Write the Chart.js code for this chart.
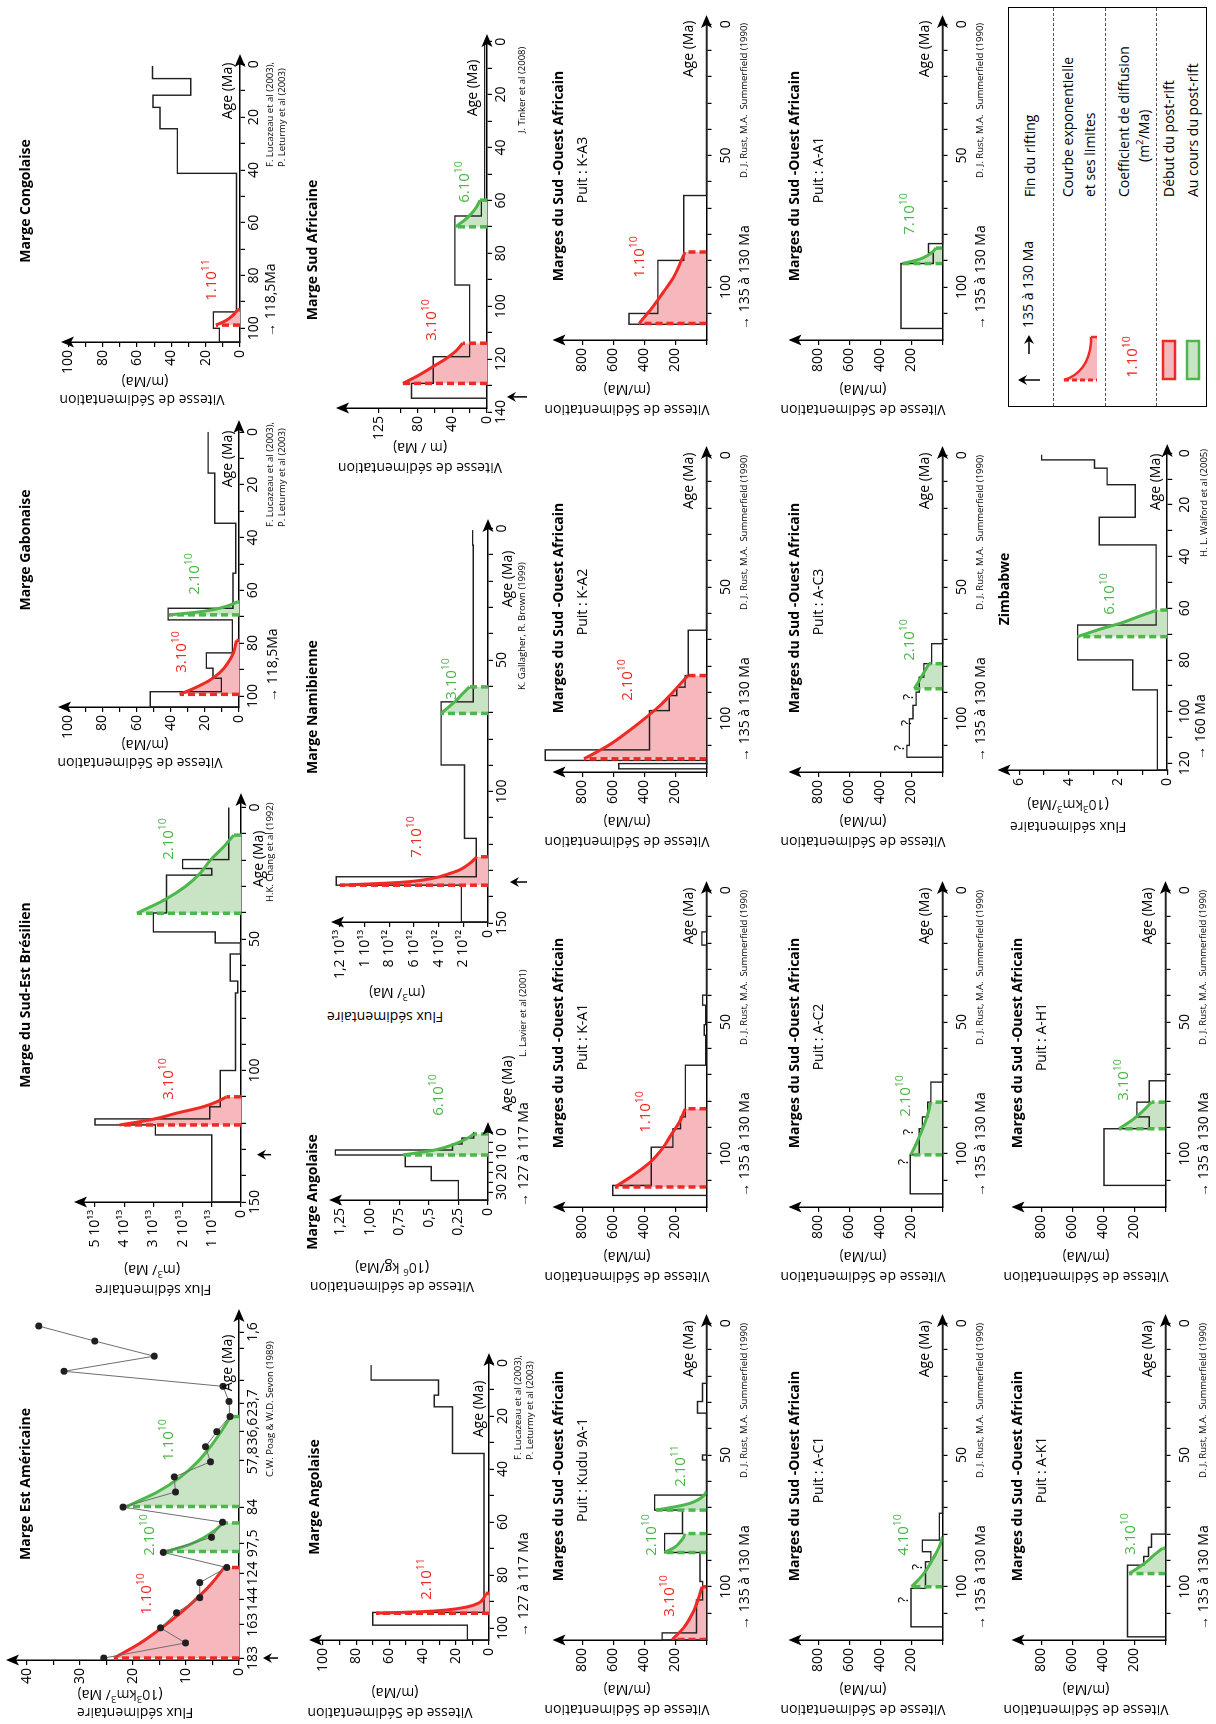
<!DOCTYPE html>
<html lang="fr">
<head>
<meta charset="utf-8">
<title>Flux et vitesses de sédimentation des marges</title>
<script src="https://cdn.jsdelivr.net/npm/chart.js@4.4.1/dist/chart.umd.min.js"></script>
<style>
  html, body { margin: 0; padding: 0; background: #fff; }
  body { width: 1216px; height: 1724px; overflow: hidden; position: relative; font-family: "Open Sans", "Liberation Sans", sans-serif; color: #000; }
  /* la figure est construite en paysage puis tournée d'un quart de tour */
  #page { position: absolute; left: 0; top: 0; width: 1724px; height: 1216px; transform-origin: 0 0; transform: translateY(1724px) rotate(-90deg); }
  #page canvas { position: absolute; }
  .t { position: absolute; white-space: nowrap; line-height: 1; }
  .t sup { font-size: 70%; vertical-align: 0.6em; line-height: 0; }
  .ti { font-weight: 700; font-size: 14px; }
  .ax { font-size: 14px; }
  .cr { font-size: 9.5px; }
  .co { font-size: 15px; }
  .rouge { color: #EE2A24; }
  .vert { color: #4CB74A; }
  #legende { position: absolute; left: 1317px; top: 1008px; width: 400px; height: 199px; border: 1.3px solid #000; box-sizing: border-box; }
  .sep { position: absolute; left: 0; right: 0; border-top: 1px dashed #555; }
</style>
</head>
<body>
<div id="page"></div>
<script>
// ---------- Données (âges en Ma) ----------

// Marge Est Américaine : flux (10^3 km3/Ma) par étage, axe en rang d'étage
const estAmFlux = [25.5, 10.1, 14.8, 11.8, 7.4, 7.4, 2.3, 14.3, 5.2, 3.1, 21.9, 12, 12.2, 5.4, 6.3, 4.2, 1.7, 1.9, 3, 33, 16, 27.2, 37.8];
const estAmTickPos = [0, 2.2, 3.9, 5.6, 7.6, 10, 13.1, 15, 16.9, 18.4, 20.5, 21.6];
const estAmTickLab = ['183', '163', '144', '124', '97,5', '84', '57,8', '36,6', '23,7', '', '', '1,6'];
const estAmRouge = [[0, 23.6], [1, 18.6], [2, 14.6], [3, 11], [4, 7.8], [5, 5], [6, 2.8]];
const estAmVert1 = [[7.06, 13.8], [7.5, 9.5], [8, 6.5], [8.5, 4.4], [8.95, 3.0]];
const estAmVert2 = [[10.04, 21.2], [11, 15.4], [12, 11], [13, 7.8], [14, 5.4], [15, 3.4], [16, 1.6]];

// Marge du Sud-Est Brésilien (10^13 m3/Ma)
const sebAges = [150, 124.5, 120.7, 118.4, 113.8, 100, 70.5, 66, 55.7, 51.5, 47.3, 40.1, 25.7, 23.2, 19.8, 0];
const sebFlux = [1.0, 2.93, 5.0, 1.07, 0.71, 0.19, 0.11, 0.37, 0.02, 0.88, 3.0, 2.55, 1.0, 2.0, 0.42];
const sebRouge = [[120.7, 4.15], [118.5, 3.0], [116.2, 2.2], [113.8, 1.3], [112, 0.85], [110, 0.5]];
const sebVert = [[40.2, 3.56], [35, 2.6], [30, 1.9], [25, 1.4], [20, 1.05], [15, 0.6], [10.5, 0.25]];

// Marge Gabonaise (m/Ma)
const gabAges = [104.2, 98.4, 93.3, 89.5, 83.7, 71.2, 66.8, 53.5, 34.6, 15.6, 0];
const gabVit = [52, 10.3, 15.2, 19.1, 3.9, 41.5, 3.5, 1.9, 14.2, 18.1];
const gabRouge = [[99.4, 34.7], [97, 26], [94, 17], [91, 11], [88, 7], [84, 3.5], [79, 1.5]];
const gabVert = [[69.3, 41], [68.3, 25], [67.3, 15], [66, 7], [64.4, 1]];

// Marge Congolaise (m/Ma)
const conAges = [105.2, 100, 93.8, 41.3, 24.4, 16.3, 11.7, 5.4, 0.6];
const conVit = [12, 15.5, 2, 36.5, 46.6, 50.7, 28.7, 51];
const conRouge = [[98.8, 14], [97, 8], [95, 4], [93, 1.5]];

// Marge Angolaise (m/Ma)
const ang1Ages = [104.5, 98.9, 94.1, 34.1, 16.5, 12.1, 6.4, 0.75];
const ang1Vit = [13, 70, 3, 22, 33, 30.4, 71];
const ang1Rouge = [[94.4, 68], [93.8, 40], [93.2, 26], [92, 13], [90.5, 6], [88.5, 3], [86.9, 2]];

// Marge Angolaise (10^6 kg/Ma)
const ang2Ages = [34, 24.3, 17.3, 11.5, 9, 6, 3, 0];
const ang2Vit = [0.25, 0.48, 0.70, 1.29, 0.30, 0.22, 0.12];
const ang2Vert = [[11.5, 0.72], [9, 0.45], [6, 0.28], [3, 0.17], [1, 0.12]];

// Marge Namibienne (10^12 m3/Ma)
const namAges = [149.6, 135.6, 132.4, 117.8, 89.9, 65.9, 6.3, 0.6];
const namFlux = [2.16, 12.3, 0.95, 1.9, 3.8, 1.2, 1.25];
const namRouge = [[135.6, 12], [134.5, 7], [133, 4.5], [131, 3], [129.8, 2.3], [127, 1.4], [124.8, 0.9]];
const namVert = [[70.3, 3.8], [67.5, 3.1], [65, 2.5], [62.5, 2], [60.2, 1.5]];

// Marge Sud Africaine (m/Ma)
const safAges = [134.8, 129.2, 119.1, 92, 65.9, 59.9, 0];
const safVit = [87, 62, 20, 37, 6.5, 2.7];
const safRouge = [[129.2, 97], [126, 78], [123, 63], [120, 48], [117, 36], [114, 28]];
const safVert = [[70, 36], [67.5, 26], [65, 18], [62.5, 12], [59.9, 8]];

// Marges du Sud-Ouest Africain, puits (m/Ma)
const kuduAges = [120.2, 117.5, 105, 98, 87, 79.8, 70.9, 65.2, 51.9, 50, 34.1, 29.7, 22.8, 0];
const kuduVit = [286, 65, 25, 42, 270, 155, 335, 0, 26, 0, 58, 26, 0];
const kuduRouge = [[120, 220], [115, 140], [110, 90], [105, 55], [100, 28]];
const kuduVert1 = [[87, 272], [85, 205], [83, 170], [81.5, 150], [79.8, 140]];
const kuduVert2 = [[70.9, 325], [69.5, 190], [68.4, 110], [67, 55], [65.5, 20], [63.9, 0]];

const ac1Ages = [115.2, 100.6, 90.5, 86.7, 82.3, 72.1, 0];
const ac1Vit = [203, 110, 75, 130, 20, 0];
const ac1Vert = [[100, 200], [97, 150], [93.7, 105], [90, 68], [87.3, 42], [84, 15], [81, 0]];

const ak1Ages = [119, 91.8, 88.5, 85, 80, 0];
const ak1Vit = [245, 140, 110, 90, 0];
const ak1Vert = [[95, 235], [92.5, 170], [90.5, 122], [88, 75], [85.4, 20]];

const ka1Ages = [115.8, 112, 97.5, 90.5, 86, 66.4, 55, 51, 43.6, 39.8, 20.8, 15.8, 0];
const ka1Vit = [605, 356, 217, 168, 136, 5, 15, 5, 25, 0, 30, 0];
const ka1Rouge = [[112.6, 590], [108, 470], [103, 360], [98, 285], [93, 230], [88, 175], [82.9, 136]];

const ac2Ages = [115.2, 100.4, 90.5, 86, 80.4, 72.8, 0];
const ac2Vit = [208, 150, 130, 95, 75, 0];
const ac2Vert = [[100.4, 205], [95, 160], [90, 125], [85, 95], [80.4, 75]];

const ah1Ages = [112, 90.5, 86, 80.4, 72.3, 0];
const ah1Vit = [397, 105, 185, 105, 0];
const ah1Vert = [[90.5, 300], [87, 210], [84, 150], [80.4, 90]];

const ka2Ages = [119, 117, 115.8, 111.8, 96.9, 91.2, 88, 83.6, 66.4, 0];
const ka2Vit = [566, 0, 1040, 368, 240, 192, 138, 118, 0];
const ka2Rouge = [[115.2, 790], [110, 630], [104.4, 496], [99, 380], [94.3, 288], [89.3, 208], [83.6, 120]];

const ac3Ages = [114.6, 110.1, 100, 94.9, 89.9, 84.2, 79.1, 71.5, 0];
const ac3Vit = [230, 214, 190, 170, 150, 120, 70, 0];
const ac3Vert = [[88.6, 182], [84, 135], [79.1, 88]];

const ka3Ages = [114.2, 110.1, 89.9, 65.2, 0];
const ka3Vit = [500, 314, 147, 0];
const ka3Rouge = [[113.9, 435], [109, 365], [105, 314], [100, 255], [96.2, 211], [91, 170], [86.7, 140]];

const aa1Ages = [115.8, 91.1, 87, 83.5, 0];
const aa1Vit = [268, 60, 90, 0];
const aa1Vert = [[91.1, 258], [89.5, 150], [88, 95], [86.5, 62], [85.2, 42]];

// Zimbabwe (10^3 km3/Ma)
const zimAges = [122.6, 91.6, 80, 66.5, 35.5, 24.8, 12.2, 5.8, 2.6, 0.6];
const zimFlux = [0.4, 1.4, 3.64, 0.45, 2.76, 1.3, 2.44, 2.95, 5.1];
const zimVert = [[71, 3.64], [68, 2.7], [65.8, 1.9], [63, 1.1], [60.7, 0.4]];

// Etiquettes d'axes
const sebFluxLab = ['0', '1 10¹³', '2 10¹³', '3 10¹³', '4 10¹³', '5 10¹³'];
const namFluxLab = ['0', '2 10¹²', '4 10¹²', '6 10¹²', '8 10¹²', '1 10¹³', '1,2 10¹³'];
const ang2Lab = ['0', '0,25', '0,5', '0,75', '1,00', '1,25'];
const safTicks = [0, 20, 40, 60, 80, 100, 125];
const safLab = ['0', '', '40', '', '80', '', '125'];

// ---------- Construction ----------
Chart.defaults.font.family = '"Open Sans", "Liberation Sans", sans-serif';
Chart.defaults.font.size = 14;
Chart.defaults.color = '#000';

const page = document.getElementById('page');
const PL = 72, PR = 14, PT = 14, PB = 56;
const ROUGE = '#EE2A24', ROUGE_FOND = '#F6B8BC', VERT = '#4CB74A', VERT_FOND = '#C8E4C4';

function range(a, b, step) {
    const out = [];
    for (let v = a; step > 0 ? v <= b + 1e-9 : v >= b - 1e-9; v += step) out.push(+v.toFixed(4));
    return out;
}

function steps(ages, vals) {
    const pts = [{ x: ages[0], y: 0 }];
    vals.forEach((v, i) => { pts.push({ x: ages[i], y: v }, { x: ages[i + 1], y: v }); });
    return pts;
}

function curveSets(pairs, col) {
    const data = pairs.map(p => ({ x: p[0], y: p[1] }));
    const c = col === 'r' ? ROUGE : VERT;
    const a = data[0], b = data[data.length - 1];
    const dash = { borderColor: c, borderWidth: 3.5, borderDash: [7, 4], pointRadius: 0, fill: false };
    return {
        lines: [
            { data, borderColor: c, borderWidth: 3, pointRadius: 0, cubicInterpolationMode: 'monotone', fill: false },
            Object.assign({ data: [{ x: a.x, y: 0 }, { x: a.x, y: a.y }] }, dash),
            Object.assign({ data: [{ x: b.x, y: 0 }, { x: b.x, y: b.y }] }, dash)
        ],
        fill: { data, borderWidth: 0, pointRadius: 0, cubicInterpolationMode: 'monotone', fill: 'origin', backgroundColor: col === 'r' ? ROUGE_FOND : VERT_FOND }
    };
}

// flèches des axes et flèches de fin de rifting
const axisArrows = {
    id: 'axisArrows',
    afterDraw(chart, args, opts) {
        const { ctx, chartArea: a } = chart;
        ctx.save();
        ctx.fillStyle = '#000';
        ctx.strokeStyle = '#000';
        ctx.beginPath();
        ctx.moveTo(a.right + 4, a.bottom); ctx.lineTo(a.right - 9, a.bottom - 5.5);
        ctx.lineTo(a.right - 6, a.bottom); ctx.lineTo(a.right - 9, a.bottom + 5.5);
        ctx.closePath(); ctx.fill();
        ctx.beginPath();
        ctx.moveTo(a.left, a.top - 4); ctx.lineTo(a.left - 5.5, a.top + 9);
        ctx.lineTo(a.left, a.top + 6); ctx.lineTo(a.left + 5.5, a.top + 9);
        ctx.closePath(); ctx.fill();
        if (opts.rift) {
            const x = chart.scales.x.getPixelForValue(opts.rift[0]);
            const y0 = a.bottom + opts.rift[1], y1 = a.bottom + opts.rift[2];
            ctx.lineWidth = 1.5;
            ctx.beginPath(); ctx.moveTo(x, y1); ctx.lineTo(x, y0 + 5); ctx.stroke();
            ctx.beginPath(); ctx.moveTo(x, y0); ctx.lineTo(x - 5, y0 + 9); ctx.lineTo(x, y0 + 6); ctx.lineTo(x + 5, y0 + 9);
            ctx.closePath(); ctx.fill();
        }
        ctx.restore();
    }
};

function panel(c) {
    const [L, R, T, B] = c.area;
    const left = Math.round(L - PL), top = Math.round(T - PT);
    const w = Math.round(R + PR) - left, h = Math.round(B + PB) - top;
    const cv = document.createElement('canvas');
    cv.width = w; cv.height = h;
    cv.style.left = left + 'px'; cv.style.top = top + 'px';
    cv.style.width = w + 'px'; cv.style.height = h + 'px';
    page.appendChild(cv);

    const datasets = [];
    const fills = [];
    if (c.points) {
        datasets.push({ data: c.points, borderColor: '#6d6e71', borderWidth: 1, pointRadius: 3.5,
            pointBackgroundColor: '#231f20', pointBorderWidth: 0, fill: false });
    }
    (c.curves || []).forEach(cu => {
        const s = curveSets(cu[0], cu[1]);
        datasets.push(...s.lines);
        fills.push(s.fill);
    });
    if (c.steps) {
        datasets.push({ data: c.steps, borderColor: '#231f20', borderWidth: 1.4, pointRadius: 0, fill: false, clip: false });
    }
    datasets.push(...fills);

    const grid = { drawOnChartArea: false, color: '#000', lineWidth: 1.2, tickLength: 5 };
    const border = { color: '#000', width: 1.5 };
    new Chart(cv, {
        type: 'line',
        data: { datasets },
        options: {
            responsive: false,
            animation: false,
            events: [],
            layout: { padding: { left: 0, right: PR, top: T - top, bottom: 0 }, autoPadding: false },
            plugins: { legend: { display: false }, tooltip: { enabled: false }, axisArrows: { rift: c.rift } },
            scales: {
                x: {
                    type: 'linear',
                    reverse: c.x.rev,
                    min: c.x.rev ? c.x.right : c.x.left,
                    max: c.x.rev ? c.x.left : c.x.right,
                    afterBuildTicks: s => { s.ticks = c.x.ticks.map(v => ({ value: v })); },
                    afterFit: s => { s.height = top + h - B; s.paddingLeft = 0; s.paddingRight = 0; },
                    grid, border,
                    ticks: { autoSkip: false, maxRotation: 0, minRotation: 0, padding: c.tickPad || 1, callback: c.x.fmt }
                },
                y: {
                    type: 'linear',
                    min: 0,
                    max: c.y.max,
                    afterBuildTicks: s => { s.ticks = c.y.ticks.map(v => ({ value: v })); },
                    afterFit: s => { s.width = L - left; s.paddingTop = 0; s.paddingBottom = 0; },
                    grid, border,
                    ticks: { autoSkip: false, padding: 3, callback: c.y.fmt }
                }
            }
        },
        plugins: [axisArrows]
    });
}

function txt(html, x, y, cls, anchor) {
    const d = document.createElement('div');
    d.className = 't ' + cls;
    d.innerHTML = html;
    d.style.left = x + 'px';
    d.style.top = y + 'px';
    const tx = anchor === 'l' ? '0' : anchor === 'r' ? '-100%' : '-50%';
    d.style.transform = 'translate(' + tx + ', -50%)' + (anchor === 'v' ? ' rotate(-90deg)' : '');
    page.appendChild(d);
}

const ageFmt = n => v => (Math.abs(v % n) < 1e-6 ? String(v) : '');

// ---------- Ligne 1 ----------
panel({ area: [64, 411, 10, 239], points: estAmFlux.map((v, i) => ({ x: i, y: v })),
    x: { rev: false, left: -0.13, right: 22.86, ticks: estAmTickPos, fmt: (v, i) => estAmTickLab[i] },
    y: { max: 43.2, ticks: range(0, 40, 5), fmt: v => (v % 10 === 0 ? String(v) : '') },
    curves: [[estAmRouge, 'r'], [estAmVert1, 'g'], [estAmVert2, 'g']], rift: [0, 24, 39] });

panel({ area: [522, 927, 78, 241], steps: steps(sebAges, sebFlux),
    x: { rev: true, left: 150, right: -4, ticks: range(150, 0, -10), fmt: ageFmt(50) },
    y: { max: 5.58, ticks: range(0, 5, 1), fmt: (v, i) => sebFluxLab[i] },
    curves: [[sebRouge, 'r'], [sebVert, 'g']], rift: [132, 16, 30] });

panel({ area: [1017, 1300, 62, 239], steps: steps(gabAges, gabVit),
    x: { rev: true, left: 104.2, right: -3, ticks: range(100, 0, -10), fmt: ageFmt(20) },
    y: { max: 103.7, ticks: range(0, 100, 10), fmt: ageFmt(20) },
    curves: [[gabRouge, 'r'], [gabVert, 'g']] });

panel({ area: [1382, 1666, 65, 240], steps: steps(conAges, conVit),
    x: { rev: true, left: 105.2, right: -2.4, ticks: range(100, 0, -10), fmt: ageFmt(20) },
    y: { max: 102, ticks: range(0, 100, 10), fmt: ageFmt(20) },
    curves: [[conRouge, 'r']] });

// ---------- Ligne 2 ----------
panel({ area: [84, 367, 313, 489], steps: steps(ang1Ages, ang1Vit),
    x: { rev: true, left: 104.5, right: -2.3, ticks: range(100, 0, -10), fmt: ageFmt(20) },
    y: { max: 106, ticks: range(0, 100, 10), fmt: ageFmt(20) },
    curves: [[ang1Rouge, 'r']] });

panel({ area: [524, 598, 333, 488], steps: steps(ang2Ages, ang2Vit),
    x: { rev: true, left: 34, right: -3, ticks: range(30, 0, -5), fmt: ageFmt(10) },
    y: { max: 1.31, ticks: range(0, 1.25, 0.25), fmt: (v, i) => ang2Lab[i] },
    curves: [[ang2Vert, 'g']] });

panel({ area: [802, 1201, 335, 488], steps: steps(namAges, namFlux),
    x: { rev: true, left: 149.6, right: -2.1, ticks: range(150, 0, -10), fmt: ageFmt(50) },
    y: { max: 12.4, ticks: range(0, 12, 2), fmt: (v, i) => namFluxLab[i] },
    curves: [[namRouge, 'r'], [namVert, 'g']], rift: [134.4, 22, 39] });

panel({ area: [1316, 1686, 340, 487], steps: steps(safAges, safVit),
    x: { rev: true, left: 138.5, right: -1.4, ticks: range(140, 0, -10), fmt: ageFmt(20) },
    y: { max: 169.5, ticks: safTicks, fmt: (v, i) => safLab[i] },
    curves: [[safRouge, 'r'], [safVert, 'g']], rift: [134.3, 20, 40] });

// ---------- Marges du Sud-Ouest Africain ----------
const soLeft = [84, 517, 952, 1384], soRight = [406, 839, 1274, 1705];
const soBottom = [706.5, 942.5, 1165.5];
const SO_H = 150, SO_PX = 0.155;   // hauteur d'axe (px) et px par m/Ma
const soTitleY = [558, 794, 1017];
const soWells = [
    [0, 0, 'Kudu 9A-1', kuduAges, kuduVit, [[kuduRouge, 'r'], [kuduVert1, 'g'], [kuduVert2, 'g']]],
    [1, 0, 'K-A1', ka1Ages, ka1Vit, [[ka1Rouge, 'r']]],
    [2, 0, 'K-A2', ka2Ages, ka2Vit, [[ka2Rouge, 'r']]],
    [3, 0, 'K-A3', ka3Ages, ka3Vit, [[ka3Rouge, 'r']]],
    [0, 1, 'A-C1', ac1Ages, ac1Vit, [[ac1Vert, 'g']]],
    [1, 1, 'A-C2', ac2Ages, ac2Vit, [[ac2Vert, 'g']]],
    [2, 1, 'A-C3', ac3Ages, ac3Vit, [[ac3Vert, 'g']]],
    [3, 1, 'A-A1', aa1Ages, aa1Vit, [[aa1Vert, 'g']]],
    [0, 2, 'A-K1', ak1Ages, ak1Vit, [[ak1Vert, 'g']]],
    [1, 2, 'A-H1', ah1Ages, ah1Vit, [[ah1Vert, 'g']]]
];
soWells.forEach(([col, row, name, ages, vit, curves]) => {
    const L = soLeft[col], R = soRight[col], B = soBottom[row], T = B - SO_H;
    panel({ area: [L, R, T, B], steps: steps(ages, vit), tickPad: 6,
        x: { rev: true, left: 120.2, right: -2, ticks: range(110, 0, -10), fmt: ageFmt(50) },
        y: { max: SO_H / SO_PX, ticks: range(0, 800, 200), fmt: v => (v > 0 ? String(v) : '') },
        curves });
    txt('Marges du Sud -Ouest Africain', L + 164, soTitleY[row], 'ti');
    txt('Puit : ' + name, L + 170, soTitleY[row] + 24, 'ax');
    txt('Vitesse de Sédimentation', L - 70, B - 80, 'ax', 'v');
    txt('(m/Ma)', L - 50, B - 80, 'ax', 'v');
    txt('Age (Ma)', L + 291, B - 19, 'ax');
    txt('D. J. Rust, M.A.&nbsp; Summerfield (1990)', L + 162, B + 37, 'cr', 'l');
    txt('&#8594; 135 à 130 Ma', L + 10, B + 37, 'ax', 'l');
});

panel({ area: [954, 1276, 1001.5, 1167.2], steps: steps(zimAges, zimFlux), tickPad: 4,
    x: { rev: true, left: 122.6, right: -2, ticks: range(120, 0, -10), fmt: ageFmt(20) },
    y: { max: 6.73, ticks: range(0, 6, 1), fmt: ageFmt(2) },
    curves: [[zimVert, 'g']] });

// ---------- Textes ----------
const R_ = 'rouge', V_ = 'vert';
[
    ['Marge Est Américaine', 240, 25], ['Marge du Sud-Est Brésilien', 729, 25],
    ['Marge Gabonaise', 1174, 25], ['Marge Congolaise', 1523, 25],
    ['Marge Angolaise', 227, 314], ['Marge Angolaise', 532, 312],
    ['Marge Namibienne', 1017, 312], ['Marge Sud Africaine', 1474, 312], ['Zimbabwe', 1135, 1004]
].forEach(t => txt(t[0], t[1], t[2], 'ti'));

[
    ['Flux sédimentaire', 11, 135], ['(10<sup>3</sup>km<sup>3</sup>/ Ma)', 29, 120],
    ['Flux sédimentaire', 434, 153], ['(m<sup>3</sup>/ Ma)', 454, 152],
    ['Vitesse de Sédimentation', 961, 140], ['(m/Ma)', 979, 145],
    ['Vitesse de Sédimentation', 1324, 142], ['(m/Ma)', 1342, 145],
    ['Vitesse de Sédimentation', 11, 390], ['(m/Ma)', 31, 395],
    ['Vitesse de sédimentation', 437, 392], ['(10<sup>6</sup> kg/Ma)', 456, 392],
    ['Flux sédimentaire', 707, 385], ['(m<sup>3</sup>/ Ma)', 731, 397],
    ['Vitesse de sédimentation', 1256, 420], ['(m / Ma)', 1276, 420],
    ['Flux sédimentaire', 897, 1068], ['(10<sup>3</sup>km<sup>3</sup>/Ma)', 919, 1068]
].forEach(t => txt(t[0], t[1], t[2], 'ax', 'v'));

[
    [361, 227], [865, 258], [1265, 227], [1633, 227], [315, 478], [640, 507],
    [1145, 507], [1636, 472], [1242, 1155]
].forEach(p => txt('Age (Ma)', p[0], p[1], 'ax'));

[
    ['C.W. Poag &amp; W.D. Sevon (1989)', 247, 270], ['H.K. Chang et al (1992)', 822, 270],
    ['F. Lucazeau et al (2003),', 1197, 270], ['P. Leturmy et al (2003)', 1197, 282],
    ['F. Lucazeau et al (2003),', 1557, 270], ['P. Leturmy et al (2003)', 1557, 282],
    ['F. Lucazeau et al (2003),', 264, 518], ['P. Leturmy et al (2003)', 264, 530],
    ['L. Lavier et al (2001)', 667, 523], ['K. Gallagher, R. Brown (1999)', 1034, 522],
    ['J. Tinker et al (2008)', 1591, 522], ['H. L. Walford et al (2005)', 1167, 1204]
].forEach(t => txt(t[0], t[1], t[2], 'cr', 'l'));

[
    ['&#8594; 118,5Ma', 1022, 272], ['&#8594; 118,5Ma', 1387, 270],
    ['&#8594; 127 à 117 Ma', 87, 523], ['&#8594; 127 à 117 Ma', 517, 523], ['&#8594; 160 Ma', 964, 1200]
].forEach(t => txt(t[0], t[1], t[2], 'ax', 'l'));

// coefficients de diffusion
[
    ['1.10<sup>10</sup>', 130, 145, R_], ['2.10<sup>10</sup>', 189, 148, V_], ['1.10<sup>10</sup>', 284, 167, V_],
    ['3.10<sup>10</sup>', 645, 167, R_], ['2.10<sup>10</sup>', 885, 167, V_],
    ['3.10<sup>10</sup>', 1072, 180, R_], ['2.10<sup>10</sup>', 1150, 193, V_],
    ['1.10<sup>11</sup>', 1444, 210, R_],
    ['2.10<sup>11</sup>', 145, 425, R_], ['6.10<sup>10</sup>', 629, 437, V_],
    ['7.10<sup>10</sup>', 887, 415, R_], ['3.10<sup>10</sup>', 1045, 450, V_],
    ['3.10<sup>10</sup>', 1404, 430, R_], ['6.10<sup>10</sup>', 1542, 463, V_],
    ['3.10<sup>10</sup>', 128, 668, R_], ['2.10<sup>10</sup>', 189, 650, V_], ['2.10<sup>11</sup>', 258, 679, V_],
    ['1.10<sup>10</sup>', 612, 644, R_], ['2.10<sup>10</sup>', 1044, 626, R_], ['1.10<sup>10</sup>', 1467, 638, R_],
    ['4.10<sup>10</sup>', 189, 902, V_], ['2.10<sup>10</sup>', 628, 904, V_], ['2.10<sup>10</sup>', 1084, 908, V_],
    ['7.10<sup>10</sup>', 1510, 908, V_], ['3.10<sup>10</sup>', 190, 1129, V_], ['3.10<sup>10</sup>', 644, 1122, V_],
    ['6.10<sup>10</sup>', 1130, 1108, V_]
].forEach(t => txt(t[0], t[1], t[2], 'co ' + t[3]));

// points d'interrogation
[[124, 903], [157, 917], [562, 903], [592, 908], [976, 899], [1001, 906], [1027, 908]]
    .forEach(p => txt('?', p[0], p[1], 'ax'));

// ---------- Légende ----------
const leg = document.createElement('div');
leg.id = 'legende';
leg.innerHTML =
    '<div class="sep" style="top:44px"></div><div class="sep" style="top:96px"></div><div class="sep" style="top:147px"></div>' +
    '<svg width="400" height="199" style="position:absolute;left:-1px;top:-1px">' +
    '<line x1="27" y1="32" x2="27" y2="15" stroke="#000" stroke-width="1.5"/><path d="M27 10 L22 19 L27 16 L32 19 Z" fill="#000"/>' +
    '<line x1="53" y1="21" x2="66" y2="21" stroke="#000" stroke-width="1.5"/><path d="M72 21 L63 16 L66 21 L63 26 Z" fill="#000"/>' +
    '<path d="M27 56 C32 72 44 81 64 83 L70 83 L70 89 L27 89 Z" fill="' + ROUGE_FOND + '"/>' +
    '<path d="M27 56 C32 72 44 81 64 83 L70 83" fill="none" stroke="' + ROUGE + '" stroke-width="2.5"/>' +
    '<line x1="27" y1="56" x2="27" y2="89" stroke="' + ROUGE + '" stroke-width="3" stroke-dasharray="5 3"/>' +
    '<line x1="70" y1="83" x2="70" y2="89" stroke="' + ROUGE + '" stroke-width="2.5"/>' +
    '<rect x="28" y="155" width="38" height="12" fill="' + ROUGE_FOND + '" stroke="' + ROUGE + '" stroke-width="2.5"/>' +
    '<rect x="28" y="179" width="38" height="12" fill="' + VERT_FOND + '" stroke="' + VERT + '" stroke-width="2.5"/>' +
    '</svg>';
page.appendChild(leg);
txt('135 à 130 Ma', 1396, 1028, 'ax', 'l');
txt('Fin du rifting', 1527, 1030, 'ax', 'l');
txt('Courbe exponentielle', 1527, 1068, 'ax', 'l');
txt('et ses limites', 1527, 1090, 'ax', 'l');
txt('1.10<sup>10</sup>', 1367, 1131, 'co rouge');
txt('Coefficient de diffusion', 1527, 1124, 'ax', 'l');
txt('(m<sup>2</sup>/Ma)', 1562, 1144, 'ax', 'l');
txt('Début du post-rift', 1527, 1169, 'ax', 'l');
txt('Au cours du post-rift', 1527, 1193, 'ax', 'l');
</script>
</body>
</html>
